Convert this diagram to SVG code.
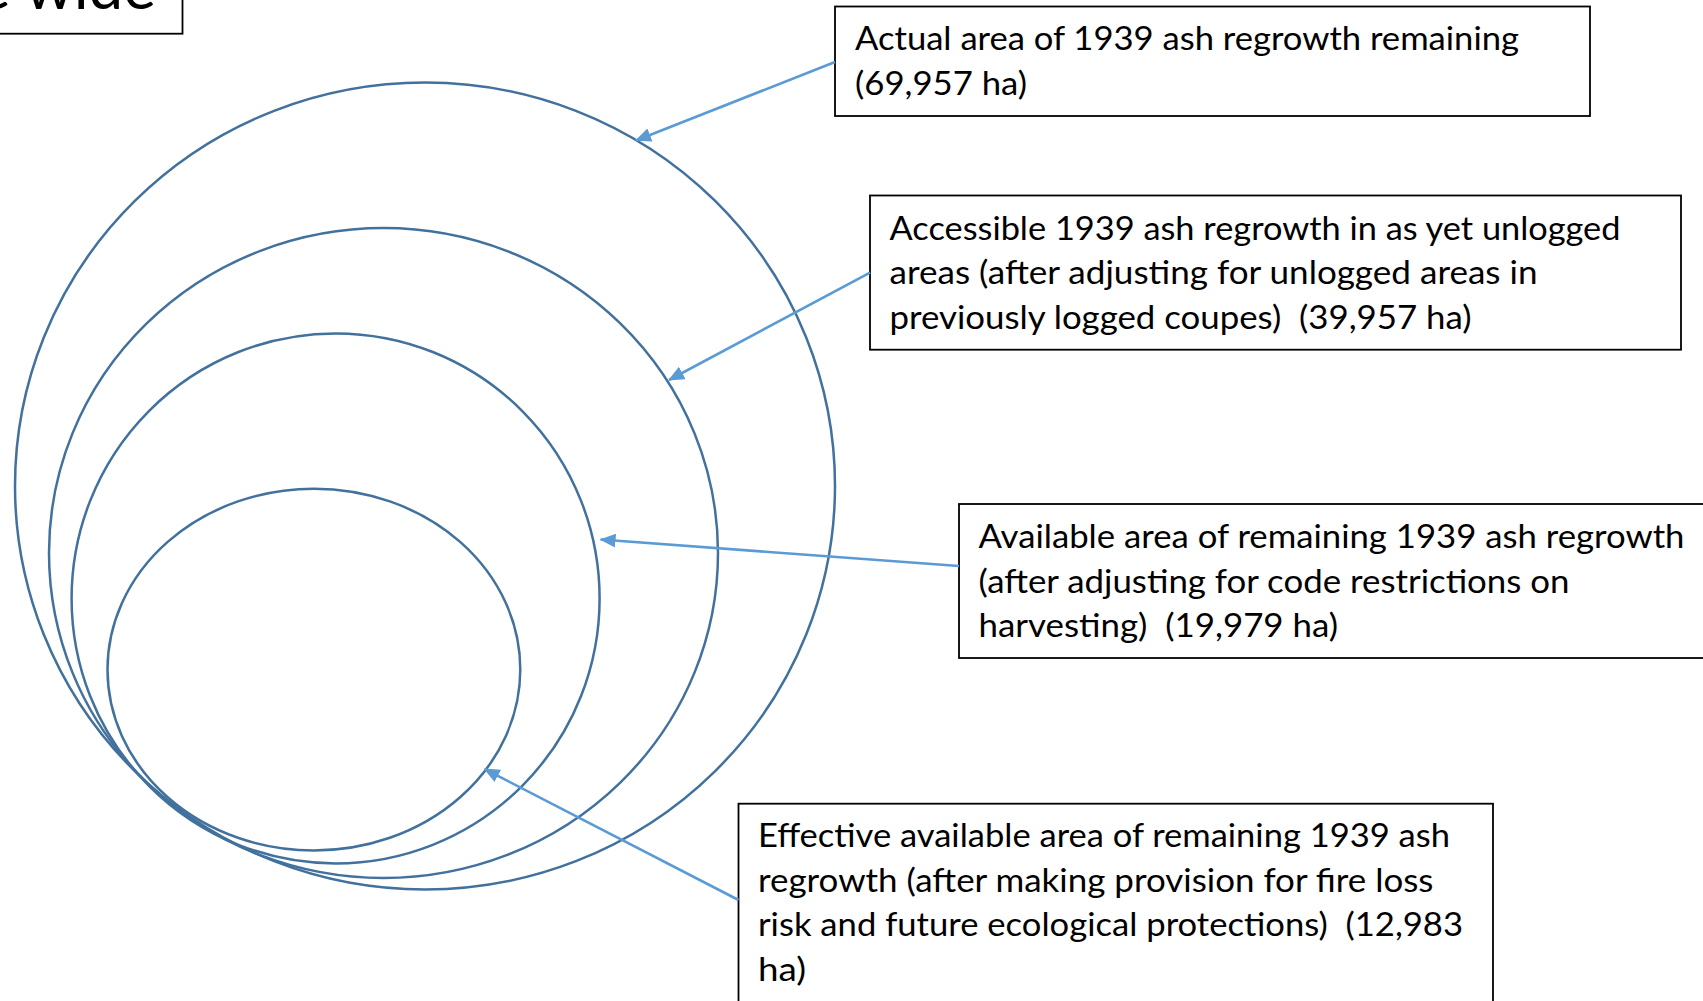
<svg xmlns="http://www.w3.org/2000/svg" width="1703" height="1001" viewBox="0 0 1703 1001">
<style>
.bg{fill:#ffffff}
.ell{fill:none;stroke:#41719C;stroke-width:2.5}
.box{fill:#ffffff;stroke:#000000;stroke-width:1.8}
.lbl{font-family:Lato,"Open Sans",sans-serif;font-size:33px;fill:#000000;white-space:pre}
.big{font-family:Lato,"Open Sans",sans-serif;font-size:62px;fill:#000000}
.conn{stroke:#5B9BD5;stroke-width:2.6;fill:none;marker-end:url(#ah)}
</style>
<defs>
<marker id="ah" viewBox="0 0 16 14" refX="15" refY="7" markerWidth="16" markerHeight="14" markerUnits="userSpaceOnUse" orient="auto">
<path d="M0,0 L16,7 L0,14 Z" fill="#5B9BD5"/>
</marker>
</defs>
<rect class="bg" x="0" y="0" width="1703" height="1001"/>
<g id="title">
<rect class="box" x="-5" y="-60" width="187.5" height="93.7"/>
<text class="big" x="156" y="9" text-anchor="end">e wide</text>
</g>
<g id="ellipses">
<ellipse id="e1" class="ell" cx="425" cy="486" rx="410" ry="403.5"/>
<ellipse id="e2" class="ell" cx="383.5" cy="553" rx="334.5" ry="325"/>
<ellipse id="e3" class="ell" cx="335.6" cy="598.4" rx="264" ry="265"/>
<ellipse id="e4" class="ell" cx="313.9" cy="669.6" rx="206.4" ry="180.9"/>
</g>
<g id="box1">
<rect class="box" x="835" y="6.5" width="755" height="109.5"/>
<text class="lbl" x="855" y="50" textLength="664" lengthAdjust="spacingAndGlyphs">Actual area of 1939 ash regrowth remaining</text>
<text class="lbl" x="855" y="94.5" textLength="172" lengthAdjust="spacingAndGlyphs">(69,957 ha)</text>
</g>
<g id="box2">
<rect class="box" x="870" y="195.5" width="811" height="154.2"/>
<text class="lbl" x="889.5" y="239.5" textLength="731" lengthAdjust="spacingAndGlyphs">Accessible 1939 ash regrowth in as yet unlogged</text>
<text class="lbl" x="889.5" y="284" textLength="648" lengthAdjust="spacingAndGlyphs">areas (after adjusting for unlogged areas in</text>
<text class="lbl" x="889.5" y="328.5" textLength="582" lengthAdjust="spacingAndGlyphs" xml:space="preserve">previously logged coupes)  (39,957 ha)</text>
</g>
<g id="box3">
<rect class="box" x="959" y="504" width="760" height="154"/>
<text class="lbl" x="978.5" y="548" textLength="706" lengthAdjust="spacingAndGlyphs">Available area of remaining 1939 ash regrowth</text>
<text class="lbl" x="978.5" y="592.5" textLength="591" lengthAdjust="spacingAndGlyphs">(after adjusting for code restrictions on</text>
<text class="lbl" x="978.5" y="637" textLength="359.5" lengthAdjust="spacingAndGlyphs" xml:space="preserve">harvesting)  (19,979 ha)</text>
</g>
<g id="box4">
<rect class="box" x="738.5" y="803.7" width="754.5" height="220"/>
<text class="lbl" x="758" y="847" textLength="692" lengthAdjust="spacingAndGlyphs">Effective available area of remaining 1939 ash</text>
<text class="lbl" x="758" y="891.5" textLength="675.5" lengthAdjust="spacingAndGlyphs">regrowth (after making provision for fire loss</text>
<text class="lbl" x="758" y="936" textLength="705" lengthAdjust="spacingAndGlyphs" xml:space="preserve">risk and future ecological protections)  (12,983</text>
<text class="lbl" x="758" y="980.5" textLength="48" lengthAdjust="spacingAndGlyphs">ha)</text>
</g>
<g id="connectors">
<line class="conn" x1="835" y1="62" x2="636" y2="140.5"/>
<line class="conn" x1="870" y1="272.6" x2="669" y2="380"/>
<line class="conn" x1="959" y1="566" x2="600.6" y2="539.5"/>
<line class="conn" x1="738.5" y1="900" x2="484.5" y2="769"/>
</g>
</svg>
